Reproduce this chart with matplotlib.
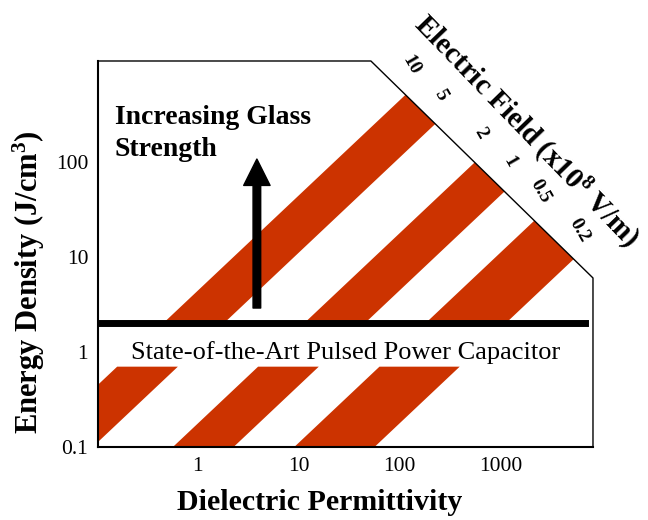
import numpy as np
import matplotlib
matplotlib.use('Agg')
import matplotlib.pyplot as plt
from matplotlib.patches import Polygon

plt.rcParams['font.family'] = ['Liberation Serif', 'DejaVu Serif']
plt.rcParams['mathtext.default'] = 'regular'

eps0 = 8.854e-12  # F/m

# electric field values (x10^8 V/m) labelled along the cut corner
field_labels = ['10', '5', '2', '1', '0.5', '0.2']
field_values = [10, 5, 2, 1, 0.5, 0.2]
# shaded bands: (higher field, lower field)
band_pairs = [(10, 5), (2, 1), (0.5, 0.2)]

sota_energy = 2.0       # J/cm3, state-of-the-art pulsed power capacitor
lower_band_top = 0.7    # J/cm3, top of the lower set of bands

x_ticks = [1, 10, 100, 1000]
x_ticklabels = ['1', '10', '100', '1000']
y_ticks = [0.1, 1, 10, 100]
y_ticklabels = ['0.1', '1', '10', '100']

xlim = (0.102, 8300)
ylim = (0.1, 1150)
cut_x = 52     # cut corner meets the top edge here
cut_y = 6.0    # cut corner meets the right edge here

band_color = '#CC3300'


def energy(eps_r, E):
    # 1/2 eps0 eps_r E^2 with E in 1e8 V/m, result in J/cm3
    return 0.5 * eps0 * eps_r * (E * 1e8) ** 2 / 1e6


def eps_at(U, E):
    return U / energy(1.0, E)


fig = plt.figure(figsize=(6.48, 5.2), dpi=100)
ax = fig.add_axes([0.1512, 0.1404, 0.7639, 0.7423])
ax.set_xscale('log')
ax.set_yscale('log')
ax.set_xlim(*xlim)
ax.set_ylim(*ylim)

# frame with the cut top-right corner
frame = Polygon([(xlim[0], ylim[0]), (xlim[0], ylim[1]), (cut_x, ylim[1]),
                 (xlim[1], cut_y), (xlim[1], ylim[0])],
                closed=True, transform=ax.transData, facecolor='none',
                edgecolor='none')
ax.add_patch(frame)

# bands above the state-of-the-art line and below the text
for e_hi, e_lo in band_pairs:
    for u0, u1 in [(sota_energy, 1e5), (ylim[0] / 2, lower_band_top)]:
        xs = [eps_at(u0, e_hi), eps_at(u0, e_lo), eps_at(u1, e_lo), eps_at(u1, e_hi)]
        ys = [u0, u0, u1, u1]
        p = ax.fill(xs, ys, color=band_color, lw=0, zorder=1)[0]
        p.set_clip_path(frame)

ax.axhline(sota_energy, xmin=0, xmax=0.984, color='black', lw=5, zorder=3)

# frame lines
for s in ['top', 'right']:
    ax.spines[s].set_visible(False)
for s in ['left', 'bottom']:
    ax.spines[s].set_linewidth(1.5)
ax.plot([xlim[0], cut_x, xlim[1], xlim[1]], [ylim[1], ylim[1], cut_y, ylim[0]],
        color='black', lw=1.0, clip_on=False, zorder=4)

ax.set_xticks(x_ticks)
ax.set_xticklabels(x_ticklabels)
ax.set_yticks(y_ticks)
ax.set_yticklabels(y_ticklabels)
ax.minorticks_off()
ax.tick_params(length=0, labelsize=15.5, pad=7)

ax.set_xlabel('Dielectric Permittivity', fontsize=21.5, fontweight='bold')
ax.xaxis.set_label_coords(0.448, -0.11)
ax.set_ylabel('Energy Density (J/cm$^{3}$)', fontsize=22, fontweight='bold')
ax.yaxis.set_label_coords(-0.103, 0.428)

# field labels where each field line meets the cut corner
lx0, ly0 = np.log10(cut_x), np.log10(ylim[1])
m = (np.log10(cut_y) - ly0) / (np.log10(xlim[1]) - lx0)
for lab, E in zip(field_labels, field_values):
    lk = np.log10(energy(1.0, E))
    lx = (ly0 - m * lx0 - lk) / (1 - m)
    xe = 10 ** lx
    ye = energy(xe, E)
    ax.annotate(lab, xy=(xe, ye), xytext=(4, 21), textcoords='offset points',
                ha='center', va='center', rotation=-60, fontsize=14,
                fontweight='bold', annotation_clip=False)

fig.text(0.812, 0.746, 'Electric Field (x10$^{8}$ V/m)', rotation=-46,
         ha='center', va='center', fontsize=21, fontweight='bold',
         rotation_mode='anchor')

ax.text(0.034, 0.813, 'Increasing Glass\nStrength', transform=ax.transAxes,
        ha='left', va='center', fontsize=20, fontweight='bold', linespacing=1.38)
ax.text(0.50, 0.246, 'State-of-the-Art Pulsed Power Capacitor',
        transform=ax.transAxes, ha='center', va='center', fontsize=19)

ax.annotate('', xy=(0.321, 0.746), xytext=(0.321, 0.36),
            xycoords='axes fraction',
            arrowprops=dict(facecolor='black', edgecolor='black', width=5.5,
                            headwidth=19, headlength=19, shrink=0))

fig.savefig('out.png', dpi=100)
